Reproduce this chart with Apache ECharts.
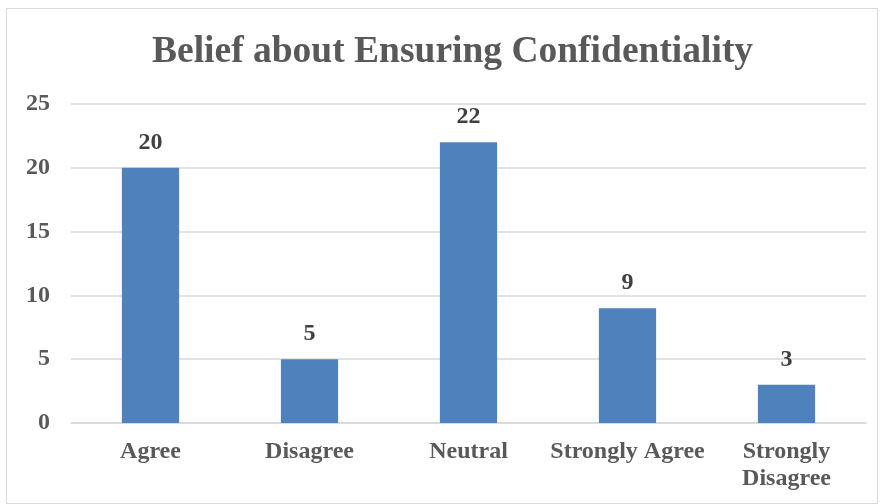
<!DOCTYPE html>
<html><head><meta charset="utf-8">
<script src="https://cdn.jsdelivr.net/npm/echarts@6/dist/echarts.min.js"></script>
<style>html,body{margin:0;padding:0;background:#fff}#c{width:881px;height:504px}</style>
</head><body><div id="c"></div>
<script>
const categories = ['Agree', 'Disagree', 'Neutral', 'Strongly Agree', 'Strongly Disagree'];
const values = [20, 5, 22, 9, 3];
const yTicks = { min: 0, max: 25, interval: 5 };
const titleText = 'Belief about Ensuring Confidentiality';

const chart = echarts.init(document.getElementById('c'));
const serif = '"Liberation Serif", "Times New Roman", serif';
chart.setOption({
  animation: false,
  backgroundColor: '#fff',
  title: {
    text: titleText, left: 147, top: 28,
    textStyle: { fontFamily: serif, fontWeight: 'bold', fontSize: 37.5, color: '#595959' }
  },
  graphic: [{ type: 'rect', shape: { x: 6.5, y: 8.5, width: 871, height: 495 }, style: { fill: 'none', stroke: '#d9d9d9', lineWidth: 1 } }],
  grid: { left: 71, right: 15, top: 104, bottom: 81 },
  xAxis: {
    type: 'category', data: categories,
    axisTick: { show: false },
    axisLine: { lineStyle: { color: '#d9d9d9', width: 1.5 } },
    axisLabel: {
      interval: 0,
      fontFamily: serif, fontWeight: 'bold', fontSize: 24, color: '#595959', margin: 15, lineHeight: 27,
      formatter: v => v === 'Strongly Disagree' ? 'Strongly\nDisagree' : v
    }
  },
  yAxis: {
    type: 'value', min: yTicks.min, max: yTicks.max, interval: yTicks.interval,
    axisLine: { show: false }, axisTick: { show: false },
    splitLine: { lineStyle: { color: '#d9d9d9', width: 1.5 } },
    axisLabel: { fontFamily: serif, fontWeight: 'bold', fontSize: 24, color: '#595959', margin: 21 }
  },
  series: [{
    type: 'bar', data: values, barWidth: '36%',
    itemStyle: { color: '#4f81bd' },
    label: { show: true, position: 'top', distance: 13, fontFamily: serif, fontWeight: 'bold', fontSize: 24, color: '#404040' }
  }]
});
</script></body></html>
